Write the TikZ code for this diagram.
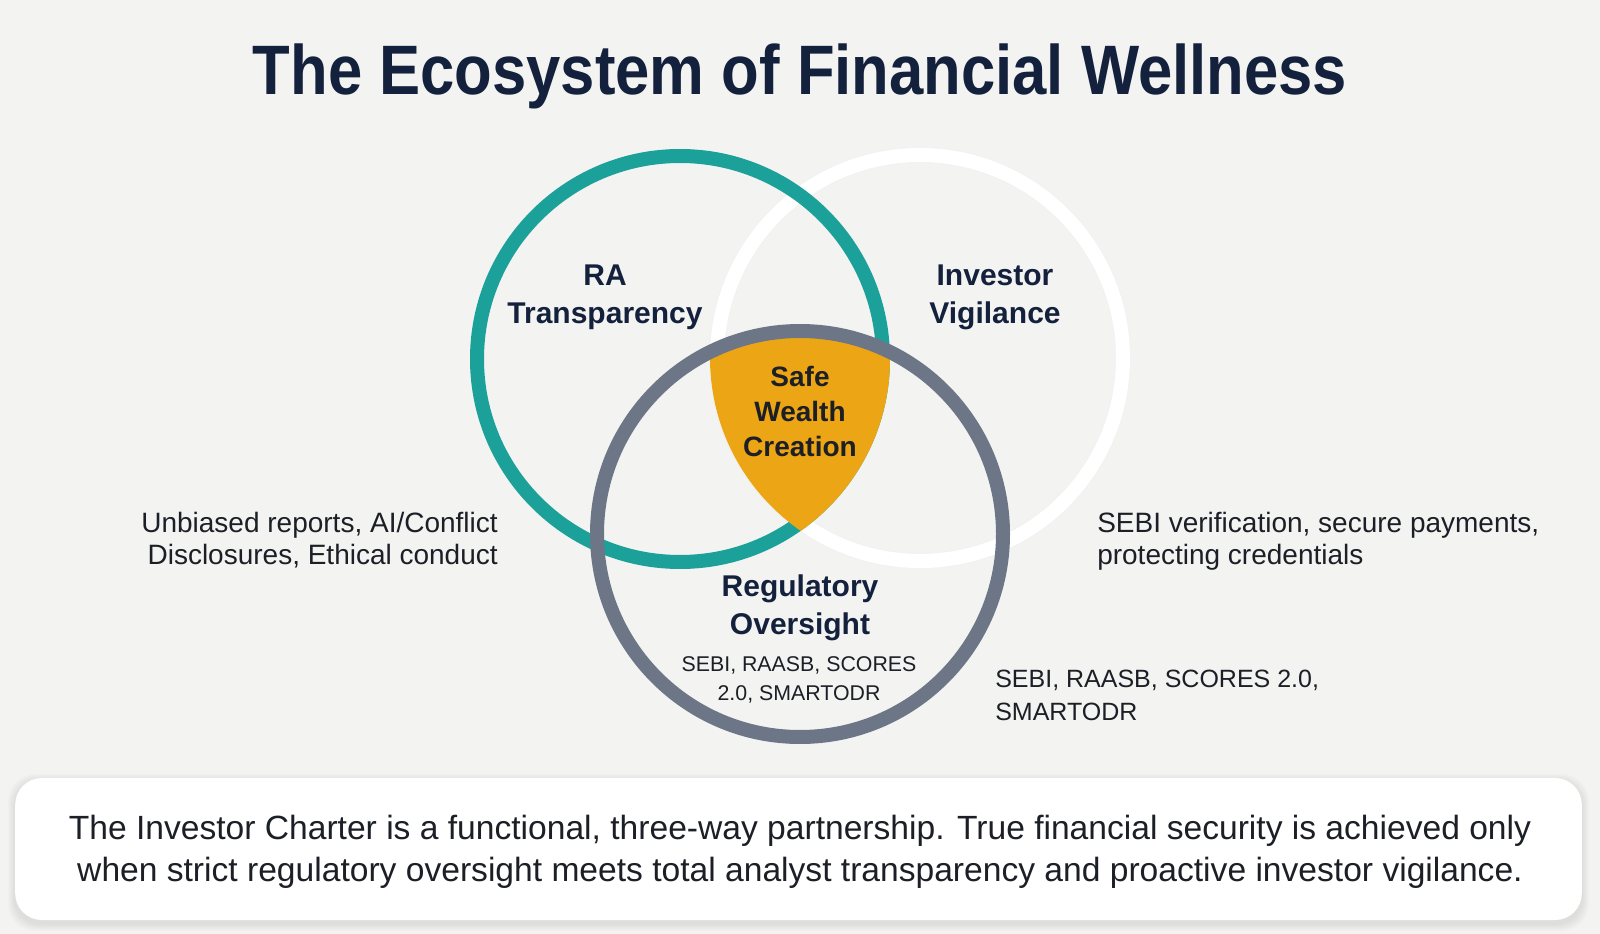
\documentclass[tikz,border=0pt]{standalone}
\usepackage{fontspec}
\setmainfont{Liberation Sans}
\newfontfamily\titlefont{Liberation Sans}[FakeStretch=0.88]
\usetikzlibrary{positioning}

\definecolor{bgpaper}{HTML}{F3F3F1}
\definecolor{navyink}{HTML}{14213D}
\definecolor{tealring}{HTML}{1BA199}
\definecolor{slatering}{HTML}{6C7686}
\definecolor{goldcore}{HTML}{ECA514}
\definecolor{textink}{HTML}{1C1F26}

\begin{document}
\begin{tikzpicture}[x=0.75pt, y=-0.75pt,
  ring/.style={line width=10.5pt},
  ringlabel/.style={font=\bfseries\fontsize{22.5}{28.5}\selectfont, align=center, text=navyink},
  sidenote/.style={font=\fontsize{21}{24}\selectfont, text=textink, inner sep=0pt}]
  \fill[bgpaper] (0,0) rectangle (1600,934);
  \useasboundingbox (0,0) rectangle (1600,934);

  \node[anchor=base, font=\titlefont\bfseries\fontsize{52.5}{60}\selectfont, text=navyink] (title) at (800,95) {The Ecosystem of Financial Wellness};

  % ring centres
  \coordinate (cRA) at (680,359);
  \coordinate (cInv) at (920,358);
  \coordinate (cReg) at (800,534);

  \draw[black!5, line width=12pt] (cInv) circle[radius=152.25pt];
  \draw[white, ring] (cInv) circle[radius=152.25pt];
  \draw[tealring, ring] (cRA) circle[radius=152.25pt];
  \begin{scope}
    \clip (cRA) circle[radius=157.5pt];
    \clip (cInv) circle[radius=157.5pt];
    \fill[goldcore] (cReg) circle[radius=152.25pt];
  \end{scope}
  \draw[slatering, ring] (cReg) circle[radius=152.25pt];

  \node[ringlabel] (raLabel) at (605,297) {RA\\Transparency};
  \node[ringlabel] (invLabel) at (995,297) {Investor\\Vigilance};
  \node[ringlabel, text=textink, font=\bfseries\fontsize{21}{26.25}\selectfont] (coreLabel) at (800,411) {Safe\\Wealth\\Creation};
  \node[ringlabel] (regLabel) at (800,608) {Regulatory\\Oversight};
  \node[font=\fontsize{16}{21.75}\selectfont, align=center, text=textink] (regNote) at (799,680) {SEBI, RAASB, SCORES\\2.0, SMARTODR};

  \node[sidenote, anchor=east, align=right] (raNote) at (498,540) {Unbiased reports, AI/Conflict\\Disclosures, Ethical conduct};
  \node[sidenote, anchor=west, align=left] (invNote) at (1097,541) {SEBI verification, secure payments,\\protecting credentials};
  \node[sidenote, anchor=west, align=left, font=\fontsize{18.75}{24.75}\selectfont] (regSide) at (995,695.5) {SEBI, RAASB, SCORES 2.0,\\SMARTODR};

  % charter box
  \foreach \g in {2,4,...,14}
    \fill[black, opacity=0.012, rounded corners=20pt] (15-\g/2,781-\g/2) rectangle (1582+\g/2,924+\g/2);
  \node[fill=white, rounded corners=20pt, minimum width=1175pt, minimum height=106.5pt] (charterBox) at (798.5,849) {};
  \node[align=center, text=textink, font=\fontsize{25.2}{31.5}\selectfont] (charter) at (800,852)
    {The Investor Charter is a functional, three-way partnership. True financial security is achieved only\\
     when strict regulatory oversight meets total analyst transparency and proactive investor vigilance.};
\end{tikzpicture}
\end{document}
